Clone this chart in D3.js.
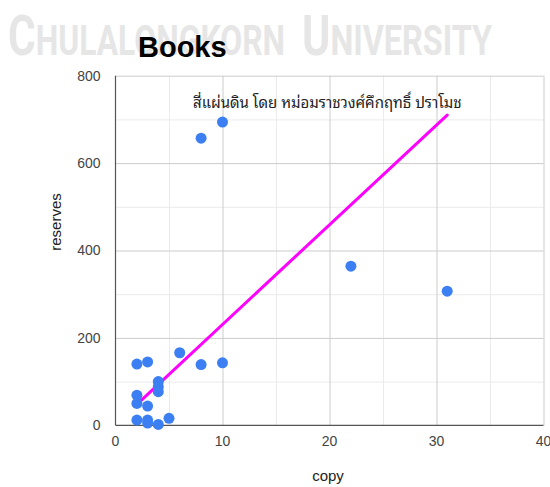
<!DOCTYPE html>
<html>
<head>
<meta charset="utf-8">
<script src="https://cdn.jsdelivr.net/npm/d3@7"></script>
<style>
  body { margin: 0; background: #fff; }
  svg { font-family: "Liberation Sans", Arial, sans-serif; }
  .grid-minor line { stroke: #ebebeb; }
  .grid-major line { stroke: #cccccc; }
  .grid-minor path, .grid-major path { display: none; }
  .tick-label { fill: #444; font-size: 14px; }
  .axis-title { fill: #222; font-size: 15px; }
</style>
</head>
<body>
<svg width="550" height="487"></svg>
<script>
// book copies (x) vs reserves (y)
var copies   = [2, 3, 6, 8, 10, 4, 4, 4, 2, 2, 3, 2, 3, 3, 4, 5, 8, 10, 22, 31];
var reserves = [140, 145, 166, 139, 143, 100, 88, 77, 69, 50, 44, 12, 12, 5, 2, 16, 657, 694, 364, 307];

// trendline
var trendX = [2, 31];
var trendY = [48, 710];

var xTicks = [0, 10, 20, 30, 40];
var yTicks = [0, 200, 400, 600, 800];
var xMinor = [5, 15, 25, 35];
var yMinor = [100, 300, 500, 700];

var chartTitle = "Books";
var noteText = "สี่แผ่นดิน โดย หม่อมราชวงศ์คึกฤทธิ์ ปราโมช";

function drawChart() {
  var margin = { top: 75.7, right: 6.5, bottom: 61.7, left: 115.5 };
  var svgWidth = 550, svgHeight = 487;
  var width = svgWidth - margin.left - margin.right;
  var height = svgHeight - margin.top - margin.bottom;
  var svg = d3.select("svg");

  // faded watermark behind everything
  var wm = svg.append("g").attr("fill", "#e6e6e6")
    .style("font-family", "Roboto, 'Liberation Sans', sans-serif")
    .style("font-weight", "bold");
  var t1 = wm.append("text").attr("x", 8).attr("y", 55)
    .attr("textLength", 277).attr("lengthAdjust", "spacingAndGlyphs");
  t1.append("tspan").style("font-size", "56px").text("C");
  t1.append("tspan").style("font-size", "42px").text("HULALONGKORN");
  var t2 = wm.append("text").attr("x", 302).attr("y", 55)
    .attr("textLength", 190).attr("lengthAdjust", "spacingAndGlyphs");
  t2.append("tspan").style("font-size", "56px").text("U");
  t2.append("tspan").style("font-size", "42px").text("NIVERSITY");

  var chart = svg.append("g")
    .attr("transform", `translate(${margin.left}, ${margin.top})`);

  var x = d3.scaleLinear().domain([0, 40]).range([0, width]);
  var y = d3.scaleLinear().domain([0, 800]).range([height, 0]);

  // grid lines
  chart.append("g").attr("class", "grid-minor")
    .call(d3.axisLeft(y).tickValues(yMinor).tickSize(-width).tickFormat(""));
  chart.append("g").attr("class", "grid-minor")
    .attr("transform", "translate(0," + height + ")")
    .call(d3.axisBottom(x).tickValues(xMinor).tickSize(-height).tickFormat(""));
  chart.append("g").attr("class", "grid-major")
    .call(d3.axisLeft(y).tickValues(yTicks.slice(1)).tickSize(-width).tickFormat(""));
  chart.append("g").attr("class", "grid-major")
    .attr("transform", "translate(0," + height + ")")
    .call(d3.axisBottom(x).tickValues(xTicks.slice(1)).tickSize(-height).tickFormat(""));

  // tick labels
  chart.selectAll(".ylab").data(yTicks).enter().append("text")
    .attr("class", "tick-label")
    .attr("x", -15).attr("y", (d) => y(d)).attr("dy", "0.35em")
    .attr("text-anchor", "end").text((d) => d);
  chart.selectAll(".xlab").data(xTicks).enter().append("text")
    .attr("class", "tick-label")
    .attr("x", (d) => x(d)).attr("y", height + 21)
    .attr("text-anchor", "middle").text((d) => d);

  // axis lines
  chart.append("line").attr("x1", 0).attr("x2", 0).attr("y1", 0).attr("y2", height)
    .attr("stroke", "#555").attr("stroke-width", 1.2);
  chart.append("line").attr("x1", 0).attr("x2", width).attr("y1", height).attr("y2", height)
    .attr("stroke", "#555").attr("stroke-width", 1.2);

  // trendline
  var line = d3.line().x((d) => x(d[0])).y((d) => y(d[1]));
  chart.append("path")
    .datum(d3.zip(trendX, trendY))
    .attr("d", line)
    .attr("fill", "none")
    .attr("stroke", "#ff00ff")
    .attr("stroke-width", 3)
    .attr("stroke-linecap", "round");

  // points
  chart.selectAll("circle")
    .data(d3.zip(copies, reserves))
    .enter()
    .append("circle")
    .attr("cx", (d) => x(d[0]))
    .attr("cy", (d) => y(d[1]))
    .attr("r", 5.5)
    .attr("fill", "#3b7ff2");

  // labels
  svg.append("text")
    .attr("x", 138).attr("y", 57)
    .style("font-size", "29px").style("font-weight", "bold")
    .attr("fill", "#000")
    .text(chartTitle);

  svg.append("text")
    .attr("x", 193).attr("y", 108)
    .style("font-size", "15px")
    .style("font-family", "'Noto Sans Thai Looped', 'Tahoma', 'Waree', 'Garuda', 'Loma', 'Noto Sans Thai', sans-serif")
    .attr("fill", "#222")
    .text(noteText);

  svg.append("text")
    .attr("class", "axis-title")
    .attr("x", 328).attr("y", 481)
    .attr("text-anchor", "middle")
    .text("copy");

  svg.append("text")
    .attr("class", "axis-title")
    .attr("transform", "translate(61,222) rotate(-90)")
    .attr("text-anchor", "middle")
    .text("reserves");
}

drawChart();
</script>
</body>
</html>
